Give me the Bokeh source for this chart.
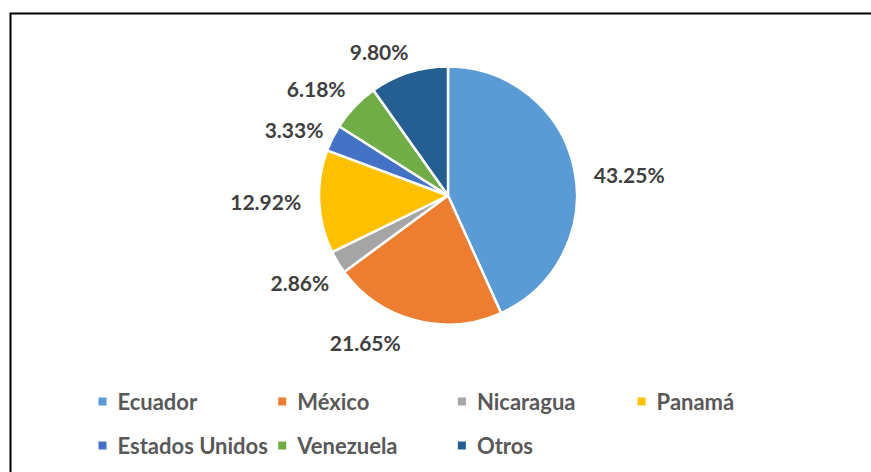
import math
from bokeh.plotting import figure
from bokeh.models import Range1d, ColumnDataSource
from bokeh.core.properties import value
from bokeh.embed import file_html
from bokeh.resources import INLINE

# ---- data ----
categories = ["Ecuador", "México", "Nicaragua", "Panamá", "Estados Unidos", "Venezuela", "Otros"]
shares = [43.25, 21.65, 2.86, 12.92, 3.33, 6.18, 9.80]
colors = ["#5B9BD5", "#ED7D31", "#A5A5A5", "#FFC000", "#4472C4", "#70AD47", "#255E91"]

# ---- layout (window pixels -> data units: 1 unit = 1 px) ----
W, H = 871, 472
def px(x):
    return x
def py(y):
    return H - y

CX, CY, R = px(447.5), py(195), 129
LABEL_GAP = 18
label_nudge = [(2, 10), (-10, 5), (7, 11), (0, -1), (7, 0), (4, -6), (5, -4)]

p = figure(width=W, height=H, output_backend="svg", toolbar_location=None,
           x_range=Range1d(0, W), y_range=Range1d(0, H), min_border=0,
           outline_line_color=None, background_fill_color="white")
p.axis.visible = False
p.grid.visible = False

# chart-area border (only its top and left edges fall inside the window)
p.line(x=[px(10), px(10), W], y=[0, py(13), py(13)], line_color="black", line_width=2,
       line_cap="butt", line_join="miter")

total = sum(shares)
starts, ends, mids = [], [], []
cum = 0.0
for s in shares:
    a0 = math.pi / 2 - 2 * math.pi * cum / total
    cum += s
    a1 = math.pi / 2 - 2 * math.pi * cum / total
    starts.append(a0)
    ends.append(a1)
    mids.append((a0 + a1) / 2)

src = ColumnDataSource(dict(x=[CX] * len(shares), y=[CY] * len(shares),
                            start=starts, end=ends, color=colors))
p.wedge(x="x", y="y", radius=R, radius_units="screen", start_angle="start", end_angle="end",
        direction="clock", fill_color="color", line_color="white", line_width=2.5, source=src)

# data labels
lx, ly, lt, la = [], [], [], []
for m, s, (nx, ny) in zip(mids, shares, label_nudge):
    dx, dy = math.cos(m), math.sin(m)
    lx.append(CX + (R + LABEL_GAP) * dx + nx)
    ly.append(CY + (R + LABEL_GAP) * dy - ny)
    lt.append(f"{s:.2f}%")
    la.append("left" if dx > 0 else "right")
p.text(x=lx, y=ly, text=lt, text_align=la, text_baseline="middle",
       text_font=value("Lato"), text_font_style="bold", text_font_size="21px",
       text_color="#404040")

# legend (custom, Excel-style grid of 4 columns)
LEG_X0, LEG_STEP, LEG_ROWS = 102, 179.7, [401, 445]
gx, gy, tx = [], [], []
for i, c in enumerate(categories):
    col, row = i % 4, i // 4
    x = px(LEG_X0 + col * LEG_STEP)
    y = py(LEG_ROWS[row])
    gx.append(x)
    gy.append(y)
    tx.append(x + 15)
p.scatter(x=gx, y=gy, marker="square", size=8, fill_color=colors, line_color=None)
p.text(x=tx, y=gy, text=categories, text_align="left", text_baseline="middle",
       text_font=value("Lato"), text_font_style="bold", text_font_size="22px",
       text_color="#595959")

open("out.html", "w").write(file_html(p, INLINE))
